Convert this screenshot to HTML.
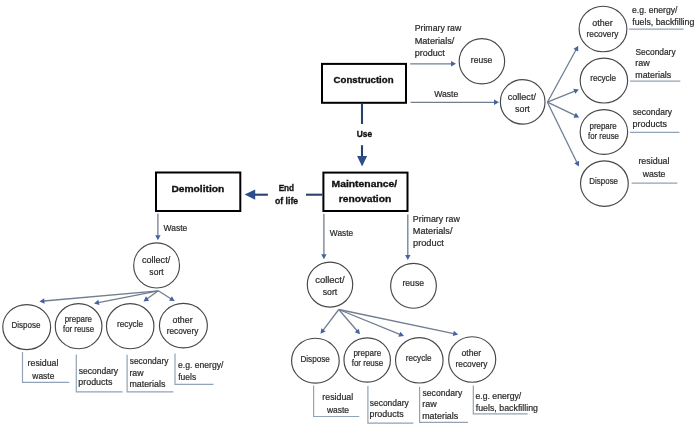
<!DOCTYPE html>
<html><head><meta charset="utf-8"><style>
html,body{margin:0;padding:0;background:#fff;width:700px;height:426px;overflow:hidden}
svg{display:block;will-change:transform;font-family:"Liberation Sans",sans-serif}
</style></head><body>
<svg width="700" height="426" viewBox="0 0 700 426">
<rect x="322" y="63.9" width="84.00" height="38.90" fill="none" stroke="#000" stroke-width="2"/>
<rect x="323.4" y="172.6" width="84.10" height="38.40" fill="none" stroke="#000" stroke-width="2"/>
<rect x="156" y="172.5" width="84.30" height="38.50" fill="none" stroke="#000" stroke-width="2"/>
<text x="333.60" y="82.60" font-size="9.9" font-weight="bold" fill="#111" stroke="#111" stroke-width="0.35" textLength="59.99" lengthAdjust="spacingAndGlyphs">Construction</text>
<text x="356.70" y="136.50" font-size="9.9" font-weight="bold" fill="#111" stroke="#111" stroke-width="0.35" textLength="15.39" lengthAdjust="spacingAndGlyphs">Use</text>
<text x="331.51" y="186.70" font-size="9.9" font-weight="bold" fill="#111" stroke="#111" stroke-width="0.35" textLength="65.69" lengthAdjust="spacingAndGlyphs">Maintenance/</text>
<text x="338.72" y="202.20" font-size="9.9" font-weight="bold" fill="#111" stroke="#111" stroke-width="0.35" textLength="52.51" lengthAdjust="spacingAndGlyphs">renovation</text>
<text x="171.41" y="191.50" font-size="9.9" font-weight="bold" fill="#111" stroke="#111" stroke-width="0.35" textLength="52.92" lengthAdjust="spacingAndGlyphs">Demolition</text>
<text x="278.65" y="190.60" font-size="9.9" font-weight="bold" fill="#111" stroke="#111" stroke-width="0.35" textLength="15.49" lengthAdjust="spacingAndGlyphs">End</text>
<text x="275.06" y="204.30" font-size="9.9" font-weight="bold" fill="#111" stroke="#111" stroke-width="0.35" textLength="23.03" lengthAdjust="spacingAndGlyphs">of life</text>
<line x1="362.00" y1="103.80" x2="362.00" y2="124.00" stroke="#27426f" stroke-width="2.1"/>
<line x1="362.00" y1="145.20" x2="362.00" y2="157.00" stroke="#27426f" stroke-width="2.1"/>
<polygon points="362.1,166.5 357.1,156.1 367.1,156.1" fill="#2b4e8a"/>
<line x1="306.00" y1="194.70" x2="322.40" y2="194.70" stroke="#27426f" stroke-width="2.1"/>
<line x1="254.00" y1="194.70" x2="267.90" y2="194.70" stroke="#27426f" stroke-width="2.1"/>
<polygon points="244.6,194.6 255.2,189.6 255.2,199.7" fill="#2b4e8a"/>
<text x="414.68" y="31.30" font-size="8.2" fill="#2a2a2a" stroke="#2a2a2a" stroke-width="0.2" textLength="46.60" lengthAdjust="spacingAndGlyphs">Primary raw</text>
<text x="414.65" y="44.20" font-size="8.2" fill="#2a2a2a" stroke="#2a2a2a" stroke-width="0.2" textLength="39.75" lengthAdjust="spacingAndGlyphs">Materials/</text>
<text x="414.82" y="56.20" font-size="8.2" fill="#2a2a2a" stroke="#2a2a2a" stroke-width="0.2" textLength="29.94" lengthAdjust="spacingAndGlyphs">product</text>
<line x1="410.20" y1="63.80" x2="451.50" y2="63.80" stroke="#717e90" stroke-width="1.3"/>
<polygon points="456.00,63.80 451.00,66.50 451.00,61.10" fill="#4463a0"/>
<ellipse cx="481.9" cy="61.3" rx="22.73" ry="22.62" fill="none" stroke="#474747" stroke-width="1.15"/>
<text x="470.83" y="62.90" font-size="8.2" fill="#2a2a2a" stroke="#2a2a2a" stroke-width="0.2" textLength="21.45" lengthAdjust="spacingAndGlyphs">reuse</text>
<text x="434.16" y="97.10" font-size="8.2" fill="#2a2a2a" stroke="#2a2a2a" stroke-width="0.2" textLength="24.12" lengthAdjust="spacingAndGlyphs">Waste</text>
<line x1="410.60" y1="102.30" x2="494.50" y2="102.30" stroke="#717e90" stroke-width="1.3"/>
<polygon points="499.00,102.30 494.00,105.00 494.00,99.60" fill="#4463a0"/>
<ellipse cx="522.7" cy="101.9" rx="22.33" ry="22.23" fill="none" stroke="#474747" stroke-width="1.15"/>
<text x="507.82" y="100.20" font-size="8.2" fill="#2a2a2a" stroke="#2a2a2a" stroke-width="0.2" textLength="28.08" lengthAdjust="spacingAndGlyphs">collect/</text>
<text x="514.95" y="112.20" font-size="8.2" fill="#2a2a2a" stroke="#2a2a2a" stroke-width="0.2" textLength="14.91" lengthAdjust="spacingAndGlyphs">sort</text>
<line x1="547.40" y1="102.20" x2="576.04" y2="49.75" stroke="#717e90" stroke-width="1.3"/>
<polygon points="578.20,45.80 578.17,51.48 573.43,48.89" fill="#4463a0"/>
<line x1="547.40" y1="102.20" x2="574.73" y2="91.18" stroke="#717e90" stroke-width="1.3"/>
<polygon points="578.90,89.50 575.27,93.87 573.25,88.87" fill="#4463a0"/>
<line x1="547.40" y1="102.20" x2="575.14" y2="115.46" stroke="#717e90" stroke-width="1.3"/>
<polygon points="579.20,117.40 573.52,117.68 575.85,112.81" fill="#4463a0"/>
<line x1="547.40" y1="102.20" x2="576.92" y2="162.46" stroke="#717e90" stroke-width="1.3"/>
<polygon points="578.90,166.50 574.28,163.20 579.12,160.82" fill="#4463a0"/>
<ellipse cx="603" cy="29" rx="23.88" ry="22.78" fill="none" stroke="#474747" stroke-width="1.15"/>
<text x="592.33" y="26.20" font-size="8.2" fill="#2a2a2a" stroke="#2a2a2a" stroke-width="0.2" textLength="20.32" lengthAdjust="spacingAndGlyphs">other</text>
<text x="586.55" y="37.30" font-size="8.2" fill="#2a2a2a" stroke="#2a2a2a" stroke-width="0.2" textLength="31.87" lengthAdjust="spacingAndGlyphs">recovery</text>
<ellipse cx="603.9" cy="80.6" rx="23.73" ry="22.43" fill="none" stroke="#474747" stroke-width="1.15"/>
<text x="590.16" y="81.40" font-size="8.2" fill="#2a2a2a" stroke="#2a2a2a" stroke-width="0.2" textLength="25.91" lengthAdjust="spacingAndGlyphs">recycle</text>
<ellipse cx="603.9" cy="132" rx="23.73" ry="22.43" fill="none" stroke="#474747" stroke-width="1.15"/>
<text x="589.49" y="128.80" font-size="8.2" fill="#2a2a2a" stroke="#2a2a2a" stroke-width="0.2" textLength="27.26" lengthAdjust="spacingAndGlyphs">prepare</text>
<text x="587.99" y="139.00" font-size="8.2" fill="#2a2a2a" stroke="#2a2a2a" stroke-width="0.2" textLength="30.96" lengthAdjust="spacingAndGlyphs">for reuse</text>
<ellipse cx="604.4" cy="183.6" rx="23.88" ry="22.78" fill="none" stroke="#474747" stroke-width="1.15"/>
<text x="589.35" y="184.40" font-size="8.2" fill="#2a2a2a" stroke="#2a2a2a" stroke-width="0.2" textLength="28.70" lengthAdjust="spacingAndGlyphs">Dispose</text>
<text x="632.04" y="12.80" font-size="8.2" fill="#2a2a2a" stroke="#2a2a2a" stroke-width="0.2" textLength="45.36" lengthAdjust="spacingAndGlyphs">e.g. energy/</text>
<text x="632.28" y="25.40" font-size="8.2" fill="#2a2a2a" stroke="#2a2a2a" stroke-width="0.2" textLength="62.09" lengthAdjust="spacingAndGlyphs">fuels, backfilling</text>
<text x="635.52" y="55.20" font-size="8.2" fill="#2a2a2a" stroke="#2a2a2a" stroke-width="0.2" textLength="40.10" lengthAdjust="spacingAndGlyphs">Secondary</text>
<text x="635.30" y="66.10" font-size="8.2" fill="#2a2a2a" stroke="#2a2a2a" stroke-width="0.2" textLength="14.47" lengthAdjust="spacingAndGlyphs">raw</text>
<text x="635.31" y="78.30" font-size="8.2" fill="#2a2a2a" stroke="#2a2a2a" stroke-width="0.2" textLength="35.91" lengthAdjust="spacingAndGlyphs">materials</text>
<text x="632.86" y="115.20" font-size="8.2" fill="#2a2a2a" stroke="#2a2a2a" stroke-width="0.2" textLength="39.25" lengthAdjust="spacingAndGlyphs">secondary</text>
<text x="632.52" y="126.60" font-size="8.2" fill="#2a2a2a" stroke="#2a2a2a" stroke-width="0.2" textLength="34.61" lengthAdjust="spacingAndGlyphs">products</text>
<text x="638.41" y="164.30" font-size="8.2" fill="#2a2a2a" stroke="#2a2a2a" stroke-width="0.2" textLength="31.08" lengthAdjust="spacingAndGlyphs">residual</text>
<text x="642.71" y="177.00" font-size="8.2" fill="#2a2a2a" stroke="#2a2a2a" stroke-width="0.2" textLength="22.67" lengthAdjust="spacingAndGlyphs">waste</text>
<line x1="628.90" y1="29.10" x2="683.60" y2="29.10" stroke="#91a3b4" stroke-width="1.2"/>
<line x1="630.10" y1="81.10" x2="680.30" y2="81.10" stroke="#91a3b4" stroke-width="1.2"/>
<line x1="630.10" y1="132.40" x2="679.40" y2="132.40" stroke="#91a3b4" stroke-width="1.2"/>
<line x1="631.60" y1="183.20" x2="677.40" y2="183.20" stroke="#91a3b4" stroke-width="1.2"/>
<line x1="157.90" y1="213.50" x2="157.90" y2="235.80" stroke="#717e90" stroke-width="1.3"/>
<polygon points="157.90,240.30 155.20,235.30 160.60,235.30" fill="#4463a0"/>
<text x="163.56" y="230.80" font-size="8.2" fill="#2a2a2a" stroke="#2a2a2a" stroke-width="0.2" textLength="23.71" lengthAdjust="spacingAndGlyphs">Waste</text>
<ellipse cx="156.6" cy="265.4" rx="22.93" ry="22.58" fill="none" stroke="#474747" stroke-width="1.15"/>
<text x="141.91" y="262.80" font-size="8.2" fill="#2a2a2a" stroke="#2a2a2a" stroke-width="0.2" textLength="28.29" lengthAdjust="spacingAndGlyphs">collect/</text>
<text x="149.36" y="275.30" font-size="8.2" fill="#2a2a2a" stroke="#2a2a2a" stroke-width="0.2" textLength="14.30" lengthAdjust="spacingAndGlyphs">sort</text>
<line x1="158.30" y1="290.80" x2="43.88" y2="301.00" stroke="#717e90" stroke-width="1.3"/>
<polygon points="39.40,301.40 44.14,298.27 44.62,303.65" fill="#4463a0"/>
<line x1="158.30" y1="290.80" x2="98.42" y2="302.53" stroke="#717e90" stroke-width="1.3"/>
<polygon points="94.00,303.40 98.39,299.79 99.43,305.09" fill="#4463a0"/>
<line x1="158.30" y1="290.80" x2="147.16" y2="298.78" stroke="#717e90" stroke-width="1.3"/>
<polygon points="143.50,301.40 145.99,296.29 149.14,300.68" fill="#4463a0"/>
<line x1="158.30" y1="290.80" x2="170.89" y2="298.71" stroke="#717e90" stroke-width="1.3"/>
<polygon points="174.70,301.10 169.03,300.73 171.90,296.15" fill="#4463a0"/>
<ellipse cx="26.7" cy="327.1" rx="23.93" ry="22.48" fill="none" stroke="#474747" stroke-width="1.15"/>
<text x="11.44" y="327.90" font-size="8.2" fill="#2a2a2a" stroke="#2a2a2a" stroke-width="0.2" textLength="28.91" lengthAdjust="spacingAndGlyphs">Dispose</text>
<ellipse cx="78.6" cy="326.2" rx="23.33" ry="22.58" fill="none" stroke="#474747" stroke-width="1.15"/>
<text x="64.69" y="322.00" font-size="8.2" fill="#2a2a2a" stroke="#2a2a2a" stroke-width="0.2" textLength="27.36" lengthAdjust="spacingAndGlyphs">prepare</text>
<text x="62.99" y="332.30" font-size="8.2" fill="#2a2a2a" stroke="#2a2a2a" stroke-width="0.2" textLength="31.06" lengthAdjust="spacingAndGlyphs">for reuse</text>
<ellipse cx="130.2" cy="326.2" rx="23.73" ry="22.58" fill="none" stroke="#474747" stroke-width="1.15"/>
<text x="116.95" y="326.90" font-size="8.2" fill="#2a2a2a" stroke="#2a2a2a" stroke-width="0.2" textLength="26.11" lengthAdjust="spacingAndGlyphs">recycle</text>
<ellipse cx="183.4" cy="325.6" rx="23.98" ry="22.28" fill="none" stroke="#474747" stroke-width="1.15"/>
<text x="172.53" y="322.50" font-size="8.2" fill="#2a2a2a" stroke="#2a2a2a" stroke-width="0.2" textLength="20.12" lengthAdjust="spacingAndGlyphs">other</text>
<text x="166.75" y="333.50" font-size="8.2" fill="#2a2a2a" stroke="#2a2a2a" stroke-width="0.2" textLength="31.56" lengthAdjust="spacingAndGlyphs">recovery</text>
<polyline points="22.5,352.1 22.5,382.4 69.2,382.4" fill="none" stroke="#91a3b4" stroke-width="1.2"/>
<text x="27.61" y="365.60" font-size="8.2" fill="#2a2a2a" stroke="#2a2a2a" stroke-width="0.2" textLength="30.88" lengthAdjust="spacingAndGlyphs">residual</text>
<text x="32.31" y="378.50" font-size="8.2" fill="#2a2a2a" stroke="#2a2a2a" stroke-width="0.2" textLength="22.06" lengthAdjust="spacingAndGlyphs">waste</text>
<polyline points="76.3,354.4 76.3,391.8 122.6,391.8" fill="none" stroke="#91a3b4" stroke-width="1.2"/>
<text x="78.66" y="373.80" font-size="8.2" fill="#2a2a2a" stroke="#2a2a2a" stroke-width="0.2" textLength="39.45" lengthAdjust="spacingAndGlyphs">secondary</text>
<text x="78.33" y="384.80" font-size="8.2" fill="#2a2a2a" stroke="#2a2a2a" stroke-width="0.2" textLength="34.09" lengthAdjust="spacingAndGlyphs">products</text>
<polyline points="127.1,354.7 127.1,391.8 173.4,391.8" fill="none" stroke="#91a3b4" stroke-width="1.2"/>
<text x="129.77" y="364.00" font-size="8.2" fill="#2a2a2a" stroke="#2a2a2a" stroke-width="0.2" textLength="38.65" lengthAdjust="spacingAndGlyphs">secondary</text>
<text x="129.42" y="375.70" font-size="8.2" fill="#2a2a2a" stroke="#2a2a2a" stroke-width="0.2" textLength="14.16" lengthAdjust="spacingAndGlyphs">raw</text>
<text x="129.41" y="386.70" font-size="8.2" fill="#2a2a2a" stroke="#2a2a2a" stroke-width="0.2" textLength="35.91" lengthAdjust="spacingAndGlyphs">materials</text>
<polyline points="175,353.6 175,384.3 213.5,384.3" fill="none" stroke="#91a3b4" stroke-width="1.2"/>
<text x="178.04" y="368.30" font-size="8.2" fill="#2a2a2a" stroke="#2a2a2a" stroke-width="0.2" textLength="45.36" lengthAdjust="spacingAndGlyphs">e.g. energy/</text>
<text x="178.28" y="379.80" font-size="8.2" fill="#2a2a2a" stroke="#2a2a2a" stroke-width="0.2" textLength="17.93" lengthAdjust="spacingAndGlyphs">fuels</text>
<line x1="323.90" y1="213.80" x2="323.90" y2="254.80" stroke="#717e90" stroke-width="1.3"/>
<polygon points="323.90,259.30 321.20,254.30 326.60,254.30" fill="#4463a0"/>
<text x="329.86" y="236.40" font-size="8.2" fill="#2a2a2a" stroke="#2a2a2a" stroke-width="0.2" textLength="23.20" lengthAdjust="spacingAndGlyphs">Waste</text>
<line x1="407.80" y1="214.50" x2="407.80" y2="255.50" stroke="#717e90" stroke-width="1.3"/>
<polygon points="407.80,260.00 405.10,255.00 410.50,255.00" fill="#4463a0"/>
<text x="412.88" y="221.60" font-size="8.2" fill="#2a2a2a" stroke="#2a2a2a" stroke-width="0.2" textLength="46.90" lengthAdjust="spacingAndGlyphs">Primary raw</text>
<text x="412.85" y="234.40" font-size="8.2" fill="#2a2a2a" stroke="#2a2a2a" stroke-width="0.2" textLength="39.65" lengthAdjust="spacingAndGlyphs">Materials/</text>
<text x="413.00" y="246.20" font-size="8.2" fill="#2a2a2a" stroke="#2a2a2a" stroke-width="0.2" textLength="30.86" lengthAdjust="spacingAndGlyphs">product</text>
<ellipse cx="330" cy="284.6" rx="22.73" ry="22.53" fill="none" stroke="#474747" stroke-width="1.15"/>
<text x="315.20" y="282.50" font-size="8.2" fill="#2a2a2a" stroke="#2a2a2a" stroke-width="0.2" textLength="29.40" lengthAdjust="spacingAndGlyphs">collect/</text>
<text x="322.76" y="294.80" font-size="8.2" fill="#2a2a2a" stroke="#2a2a2a" stroke-width="0.2" textLength="14.51" lengthAdjust="spacingAndGlyphs">sort</text>
<ellipse cx="413.5" cy="285.8" rx="22.88" ry="22.48" fill="none" stroke="#474747" stroke-width="1.15"/>
<text x="402.43" y="286.40" font-size="8.2" fill="#2a2a2a" stroke="#2a2a2a" stroke-width="0.2" textLength="21.56" lengthAdjust="spacingAndGlyphs">reuse</text>
<line x1="338.80" y1="309.50" x2="323.21" y2="330.21" stroke="#717e90" stroke-width="1.3"/>
<polygon points="320.50,333.80 321.35,328.18 325.66,331.43" fill="#4463a0"/>
<line x1="338.80" y1="309.50" x2="357.07" y2="330.79" stroke="#717e90" stroke-width="1.3"/>
<polygon points="360.00,334.20 354.69,332.16 358.79,328.65" fill="#4463a0"/>
<line x1="338.80" y1="309.50" x2="399.83" y2="334.40" stroke="#717e90" stroke-width="1.3"/>
<polygon points="404.00,336.10 398.35,336.71 400.39,331.71" fill="#4463a0"/>
<line x1="338.80" y1="309.50" x2="453.80" y2="333.58" stroke="#717e90" stroke-width="1.3"/>
<polygon points="458.20,334.50 452.75,336.12 453.86,330.83" fill="#4463a0"/>
<ellipse cx="315.4" cy="360.7" rx="23.83" ry="22.43" fill="none" stroke="#474747" stroke-width="1.15"/>
<text x="300.43" y="361.70" font-size="8.2" fill="#2a2a2a" stroke="#2a2a2a" stroke-width="0.2" textLength="29.43" lengthAdjust="spacingAndGlyphs">Dispose</text>
<ellipse cx="367.2" cy="360" rx="23.23" ry="22.08" fill="none" stroke="#474747" stroke-width="1.15"/>
<text x="353.38" y="355.80" font-size="8.2" fill="#2a2a2a" stroke="#2a2a2a" stroke-width="0.2" textLength="27.78" lengthAdjust="spacingAndGlyphs">prepare</text>
<text x="351.69" y="366.00" font-size="8.2" fill="#2a2a2a" stroke="#2a2a2a" stroke-width="0.2" textLength="31.57" lengthAdjust="spacingAndGlyphs">for reuse</text>
<ellipse cx="419.3" cy="360.3" rx="23.78" ry="22.73" fill="none" stroke="#474747" stroke-width="1.15"/>
<text x="405.86" y="360.80" font-size="8.2" fill="#2a2a2a" stroke="#2a2a2a" stroke-width="0.2" textLength="25.60" lengthAdjust="spacingAndGlyphs">recycle</text>
<ellipse cx="472.2" cy="359.5" rx="23.53" ry="22.73" fill="none" stroke="#474747" stroke-width="1.15"/>
<text x="461.44" y="355.90" font-size="8.2" fill="#2a2a2a" stroke="#2a2a2a" stroke-width="0.2" textLength="19.71" lengthAdjust="spacingAndGlyphs">other</text>
<text x="455.55" y="366.90" font-size="8.2" fill="#2a2a2a" stroke="#2a2a2a" stroke-width="0.2" textLength="31.97" lengthAdjust="spacingAndGlyphs">recovery</text>
<polyline points="313.6,385.5 313.6,416.5 359.2,416.5" fill="none" stroke="#91a3b4" stroke-width="1.2"/>
<text x="322.31" y="400.10" font-size="8.2" fill="#2a2a2a" stroke="#2a2a2a" stroke-width="0.2" textLength="30.88" lengthAdjust="spacingAndGlyphs">residual</text>
<text x="327.01" y="412.70" font-size="8.2" fill="#2a2a2a" stroke="#2a2a2a" stroke-width="0.2" textLength="22.06" lengthAdjust="spacingAndGlyphs">waste</text>
<polyline points="367.9,386 367.9,423.2 413.4,423.2" fill="none" stroke="#91a3b4" stroke-width="1.2"/>
<text x="369.77" y="406.00" font-size="8.2" fill="#2a2a2a" stroke="#2a2a2a" stroke-width="0.2" textLength="38.95" lengthAdjust="spacingAndGlyphs">secondary</text>
<text x="369.42" y="417.00" font-size="8.2" fill="#2a2a2a" stroke="#2a2a2a" stroke-width="0.2" textLength="34.30" lengthAdjust="spacingAndGlyphs">products</text>
<polyline points="419.6,386.8 419.6,422.4 467.9,422.4" fill="none" stroke="#91a3b4" stroke-width="1.2"/>
<text x="422.56" y="395.90" font-size="8.2" fill="#2a2a2a" stroke="#2a2a2a" stroke-width="0.2" textLength="39.66" lengthAdjust="spacingAndGlyphs">secondary</text>
<text x="422.20" y="407.10" font-size="8.2" fill="#2a2a2a" stroke="#2a2a2a" stroke-width="0.2" textLength="14.47" lengthAdjust="spacingAndGlyphs">raw</text>
<text x="422.21" y="418.70" font-size="8.2" fill="#2a2a2a" stroke="#2a2a2a" stroke-width="0.2" textLength="36.01" lengthAdjust="spacingAndGlyphs">materials</text>
<polyline points="473.3,385.4 473.3,413.8 527.6,413.8" fill="none" stroke="#91a3b4" stroke-width="1.2"/>
<text x="475.53" y="398.80" font-size="8.2" fill="#2a2a2a" stroke="#2a2a2a" stroke-width="0.2" textLength="45.67" lengthAdjust="spacingAndGlyphs">e.g. energy/</text>
<text x="475.78" y="411.40" font-size="8.2" fill="#2a2a2a" stroke="#2a2a2a" stroke-width="0.2" textLength="62.19" lengthAdjust="spacingAndGlyphs">fuels, backfilling</text>
</svg>
</body></html>
